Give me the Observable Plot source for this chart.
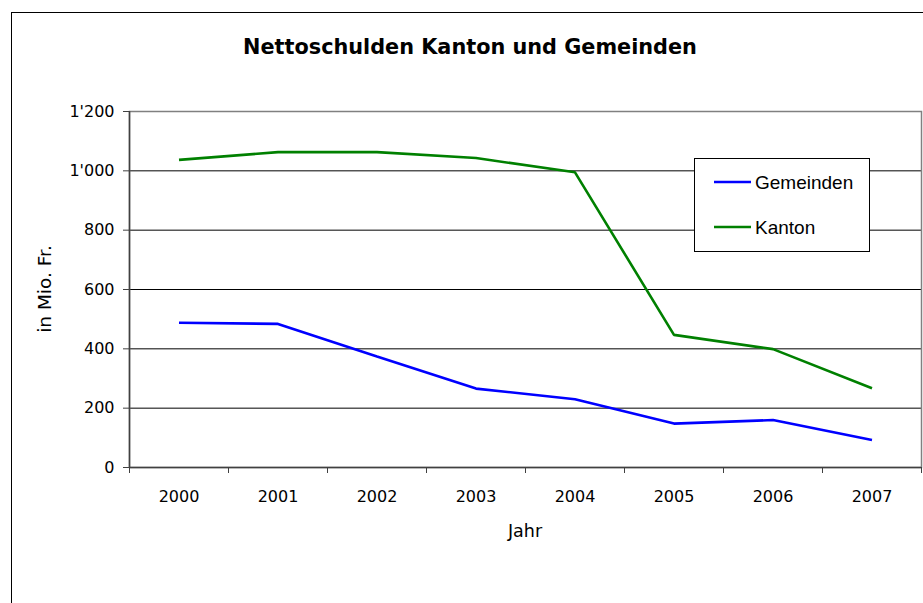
<!DOCTYPE html>
<html>
<head>
<meta charset="utf-8">
<script src="https://cdn.jsdelivr.net/npm/d3@7"></script>
<script src="https://cdn.jsdelivr.net/npm/@observablehq/plot@0.6"></script>
<style>
  html, body { margin: 0; padding: 0; background: #fff; }
  #chart { width: 923px; height: 603px; overflow: hidden; }
</style>
</head>
<body>
<div id="chart"></div>
<script>
const years = [2000, 2001, 2002, 2003, 2004, 2005, 2006, 2007];
const gemeinden = [488, 484, 374, 266, 230, 148, 160, 93];
const kanton = [1037, 1063, 1063, 1043, 995, 447, 399, 267];
const seriesNames = ["Gemeinden", "Kanton"];
const seriesColors = ["#0000FF", "#008000"];
const yTicks = [0, 200, 400, 600, 800, 1000, 1200];
const title = "Nettoschulden Kanton und Gemeinden";
const yLabel = "in Mio. Fr.";
const xLabel = "Jahr";

const data = [];
years.forEach((yr, i) => {
  data.push({year: yr, value: gemeinden[i], series: seriesNames[0]});
  data.push({year: yr, value: kanton[i], series: seriesNames[1]});
});
const boundaries = [...years.map(y => y - 0.5), years[years.length - 1] + 0.5];

const fmt = d3.formatLocale({decimal: ".", thousands: "'", grouping: [3], currency: ["", ""]}).format(",");

const W = 923, H = 603;
const plot = Plot.plot({
  width: W,
  height: H,
  marginLeft: 129,
  marginRight: 2,
  marginTop: 111,
  marginBottom: 136,
  style: {fontFamily: "DejaVu Sans", fontSize: "16px", color: "#000", background: "#fff"},
  x: {type: "linear", domain: [boundaries[0], boundaries[boundaries.length - 1]]},
  y: {domain: [0, 1200]},
  color: {domain: seriesNames, range: seriesColors},
  marks: [
    Plot.gridY(yTicks, {stroke: "#000", strokeOpacity: 1, strokeWidth: 1}),
    Plot.frame({stroke: "#808080", strokeWidth: 1.5}),
    Plot.ruleY([0], {stroke: "#404040", strokeWidth: 1.5}),
    Plot.ruleX([boundaries[0]], {stroke: "#404040", strokeWidth: 1.5}),
    Plot.axisY({ticks: yTicks, tickFormat: fmt, tickSize: 6, tickPadding: 9, label: null, fontSize: 16, stroke: "#404040"}),
    Plot.axisX({ticks: years, tickFormat: d => String(d), tickSize: 0, tickPadding: 23, label: null, fontSize: 16}),
    Plot.axisX({ticks: boundaries, tickFormat: () => "", tickSize: 6, label: null, stroke: "#404040"}),
    Plot.line(data, {x: "year", y: "value", z: "series", stroke: "series", strokeWidth: 2.6, strokeLinejoin: "miter", strokeLinecap: "butt"})
  ]
});

const svg = d3.select(plot);
// outer chart frame
svg.append("rect")
  .attr("x", 11.5).attr("y", 12.5).attr("width", 930).attr("height", 620)
  .attr("fill", "none").attr("stroke", "#000").attr("stroke-width", 1)
  .lower();

function txt(sel, size, weight, family, anchor) {
  return sel.style("font-family", family).style("font-size", size + "px")
    .style("font-weight", weight).style("text-anchor", anchor).attr("fill", "#000");
}

txt(svg.append("text").attr("x", 470).attr("y", 54), 20.8, "bold", "DejaVu Sans", "middle")
  .text(title);

txt(svg.append("text").attr("transform", "translate(51,289) rotate(-90)"), 18.5, "normal", "DejaVu Sans", "middle")
  .text(yLabel);

txt(svg.append("text").attr("x", 525).attr("y", 537), 17.5, "normal", "DejaVu Sans", "middle")
  .text(xLabel);

// legend
const lg = svg.append("g");
lg.append("rect")
  .attr("x", 694.5).attr("y", 158.5).attr("width", 175).attr("height", 93)
  .attr("fill", "#fff").attr("stroke", "#000").attr("stroke-width", 1);
seriesNames.forEach((name, i) => {
  const yy = 182 + i * 45;
  lg.append("line")
    .attr("x1", 714).attr("x2", 751).attr("y1", yy).attr("y2", yy)
    .attr("stroke", seriesColors[i]).attr("stroke-width", 2.6);
  txt(lg.append("text").attr("x", 755).attr("y", yy + 7), 19, "normal", "Liberation Sans", "start")
    .text(name);
});

document.getElementById("chart").appendChild(plot);
</script>
</body>
</html>
